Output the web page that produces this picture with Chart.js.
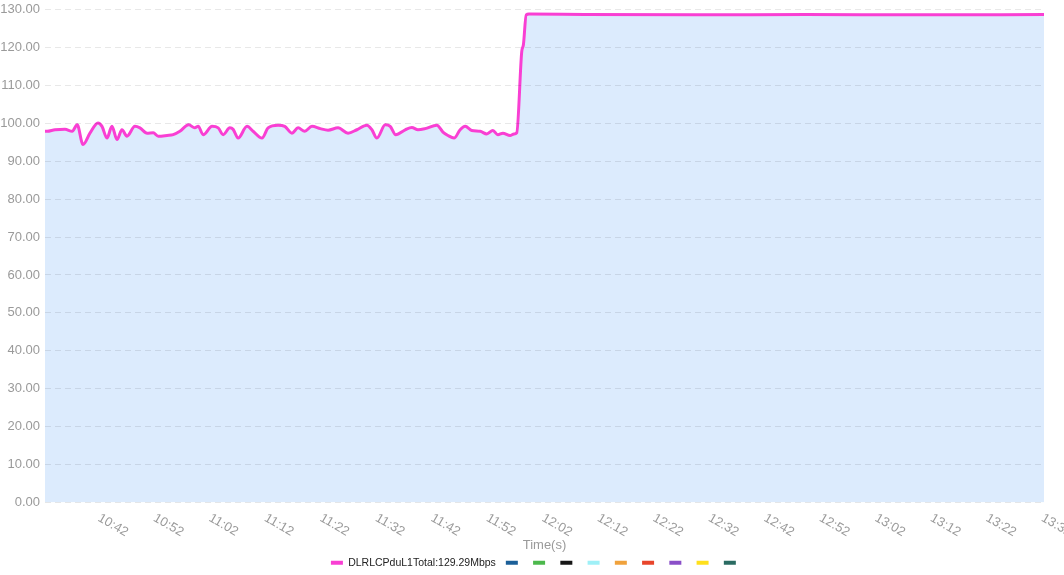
<!DOCTYPE html>
<html>
<head>
<meta charset="utf-8">
<script src="https://cdn.jsdelivr.net/npm/chart.js@4.4.0/dist/chart.umd.min.js"></script>
<style>
  html, body { margin: 0; padding: 0; background: #fff; }
  #wrap { width: 1064px; height: 575px; }
</style>
</head>
<body>
<div id="wrap"><canvas id="rate-chart"></canvas></div>
<script>
// sample times (HH:MM:SS) and DL RLC PDU L1 total throughput in Mbps
const sampleTimes = [
    '10:32:48', '10:33:10', '10:34:36', '10:36:24', '10:37:42', '10:38:36', '10:39:39', '10:40:54',
    '10:42:21', '10:43:04', '10:43:58', '10:44:52', '10:45:46', '10:46:40', '10:47:34', '10:49:00',
    '10:49:54', '10:51:12', '10:52:18', '10:53:12', '10:54:48', '10:55:54', '10:57:06', '10:58:42',
    '10:59:48', '11:00:24', '11:01:18', '11:02:54', '11:04:00', '11:04:54', '11:06:06', '11:06:42',
    '11:07:36', '11:09:12', '11:10:18', '11:11:54', '11:13:00', '11:14:48', '11:16:00', '11:17:18',
    '11:18:24', '11:19:36', '11:20:54', '11:22:24', '11:23:48', '11:25:36', '11:27:24', '11:29:00',
    '11:30:48', '11:31:42', '11:32:36', '11:34:06', '11:35:00', '11:36:00', '11:37:42', '11:38:54',
    '11:40:00', '11:41:18', '11:43:24', '11:44:30', '11:45:24', '11:46:30', '11:47:36', '11:48:30',
    '11:49:42', '11:51:12', '11:52:24', '11:53:30', '11:54:24', '11:55:18', '11:56:36', '11:57:18',
    '11:57:48', '11:58:42', '11:59:00', '11:59:30', '12:00:00', '12:10:00', '12:30:00', '12:50:00',
    '13:10:00', '13:32:48'
];
const totalMbps = [
    97.9, 97.9, 98.3, 98.4, 97.9, 99.6, 94.4, 97.4,
    100.1, 99.2, 96.1, 99.2, 95.7, 98.3, 96.6, 99.2,
    98.8, 97.4, 97.5, 96.6, 96.8, 97.0, 97.9, 99.6,
    98.8, 99.2, 97.0, 99.2, 98.8, 97.0, 98.8, 98.4,
    96.1, 99.2, 97.9, 96.1, 98.8, 99.5, 99.2, 97.4,
    98.8, 97.9, 99.2, 98.6, 98.2, 98.8, 97.4, 98.3,
    99.5, 98.3, 96.1, 99.6, 99.2, 97.0, 98.3, 98.9,
    98.3, 98.6, 99.5, 97.7, 96.8, 96.1, 98.3, 99.2,
    98.1, 97.9, 97.2, 98.1, 97.0, 97.4, 96.8, 97.2,
    97.5, 118.9, 120.7, 128.6, 128.8, 128.7, 128.6, 128.7,
    128.6, 128.7
];
const xTickLabels = ['10:42', '10:52', '11:02', '11:12', '11:22', '11:32', '11:42', '11:52', '12:02',
    '12:12', '12:22', '12:32', '12:42', '12:52', '13:02', '13:12', '13:22', '13:32'];
const xRange = ['10:32:48', '13:32:48'];
const yMin = 0, yMax = 130, yStep = 10;

const legendNames = ['DLRLCPduL1Total:129.29Mbps', '', '', '', '', '', '', '', '', ''];
const legendColors = ['#f93fd3', '#1b5f98', '#4cb84c', '#161616', '#9ff0f7', '#f0a23c',
    '#e8452b', '#8a4fc8', '#ffe01c', '#2a6b62'];

function toMinutes(t) {
    const [h, m, s] = t.split(':').map(Number);
    return h * 60 + m + (s || 0) / 60;
}

const points = sampleTimes.map((t, i) => ({ x: toMinutes(t), y: totalMbps[i] }));

// x labels are slanted downwards, so draw them ourselves at the scale's tick pixels
const slantedTimeLabels = {
    id: 'slantedTimeLabels',
    afterLayout(chart) {
        // legend in the original sits a bit right of the canvas centre
        chart.legend.left += 14;
        chart.legend.right += 14;
    },
    afterDraw(chart) {
        const xs = chart.scales.x;
        const ctx = chart.ctx;
        ctx.save();
        ctx.font = '13px "Liberation Sans"';
        ctx.fillStyle = '#9a9a9a';
        ctx.textAlign = 'left';
        ctx.textBaseline = 'top';
        xs.ticks.forEach((tick, i) => {
            const px = xs.getPixelForValue(tick.value);
            ctx.save();
            ctx.translate(px + 6, xs.top + 9);
            ctx.rotate(Math.PI / 6);
            ctx.fillText(xTickLabels[i], 0, 0);
            ctx.restore();
        });
        ctx.restore();
    }
};

const datasets = legendNames.map((name, i) => ({
    label: name,
    data: i === 0 ? points : [],
    borderColor: legendColors[i],
    backgroundColor: i === 0 ? '#dcebfd' : legendColors[i],
    borderWidth: 3,
    pointRadius: 0,
    fill: i === 0 ? 'origin' : false,
    cubicInterpolationMode: 'monotone'
}));

new Chart(document.getElementById('rate-chart'), {
    type: 'line',
    data: { datasets: datasets },
    options: {
        responsive: true,
        maintainAspectRatio: false,
        animation: false,
        layout: { padding: { top: 0, right: 20, bottom: -3, left: 0 } },
        scales: {
            x: {
                type: 'linear',
                min: toMinutes(xRange[0]),
                max: toMinutes(xRange[1]),
                afterBuildTicks: (scale) => {
                    scale.ticks = xTickLabels.map(l => ({ value: toMinutes(l) }));
                },
                afterFit: (scale) => { scale.height = 45; },
                grid: { display: false },
                border: { display: false },
                ticks: { display: false },
                title: {
                    display: true,
                    text: 'Time(s)',
                    color: '#9a9a9a',
                    font: { family: 'Liberation Sans', size: 13 },
                    padding: { top: 0, bottom: -6 }
                }
            },
            y: {
                min: yMin,
                max: yMax,
                afterFit: (scale) => { scale.width = 45; },
                grid: { color: 'rgba(0,0,0,0.09)', drawTicks: false, z: 1 },
                border: { display: false, dash: [6, 4] },
                ticks: {
                    stepSize: yStep,
                    padding: 5,
                    color: '#9a9a9a',
                    font: { family: 'Liberation Sans', size: 13, lineHeight: 0.7 },
                    callback: (v) => v.toFixed(2)
                }
            }
        },
        plugins: {
            legend: {
                position: 'bottom',
                labels: {
                    boxWidth: 12,
                    boxHeight: 4,
                    padding: 10,
                    color: '#222',
                    font: { family: 'Liberation Sans', size: 10.5 },
                    generateLabels: (chart) => {
                        return Chart.defaults.plugins.legend.labels.generateLabels(chart).map(item => {
                            item.fillStyle = item.strokeStyle;
                            item.lineWidth = 0;
                            return item;
                        });
                    }
                }
            },
            tooltip: { enabled: false }
        }
    },
    plugins: [slantedTimeLabels]
});
</script>
</body>
</html>
